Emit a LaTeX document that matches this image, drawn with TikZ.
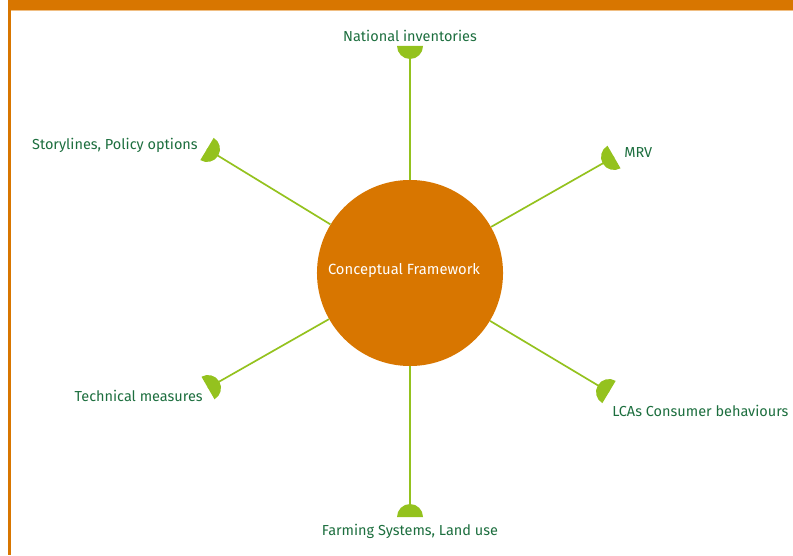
\documentclass[tikz,border=0pt]{standalone}
\usepackage{fontspec}
\setmainfont{Fira Sans}
\definecolor{cforange}{RGB}{216,118,0}
\definecolor{cflight}{RGB}{240,190,130}
\definecolor{cfgreen}{RGB}{148,194,30}
\definecolor{cftext}{RGB}{28,110,62}
\tikzset{
  spoke/.style={cfgreen, line width=1.2pt},
  lbl/.style={text=cftext, font=\fontsize{10.3}{12}\selectfont, inner sep=0pt},
}
% half disc at an end, flat side outwards, dome towards the hub
\def\lampcap(#1)(#2){\fill[cfgreen] (#1) ++(#2+90:13) arc[start angle=#2+90, delta angle=180, radius=13] -- cycle;}

\begin{document}
\begin{tikzpicture}[x=0.025cm, y=0.025cm]
			%%%%% START %%%%%
			\useasboundingbox (0, 0) rectangle (793, 555);
			
			\fill[cforange] (8, 545) rectangle (793, 555);
			\fill[cforange] (8, 0) rectangle (11, 555);
			\draw[cflight, line width=0.5pt] (11, 544.6) -- (793, 544.6);
			
			\coordinate (top) at (410, 509);
			\coordinate (topleft) at (207, 406);
			\coordinate (topright) at (614, 398);
			\coordinate (botleft) at (208, 167);
			\coordinate (botright) at (609, 163);
			\coordinate (bot) at (410, 38);
			
			\node[circle, fill=cforange, minimum size=4.65cm, inner sep=0pt] (hub) at (410, 282) {};
			\node[text=white, font=\fontsize{10.5}{12}\selectfont, inner sep=0pt] (hubtext) at (404, 284) {Conceptual Framework};
			
			\draw[spoke] (hub) -- (top);
			\draw[spoke] (hub) -- (topleft);
			\draw[spoke] (hub) -- (topright);
			\draw[spoke] (hub) -- (botleft);
			\draw[spoke] (hub) -- (botright);
			\draw[spoke] (hub) -- (bot);
			
			\lampcap(top)(90)
			\lampcap(topleft)(149)
			\lampcap(topright)(30)
			\lampcap(botleft)(210)
			\lampcap(botright)(-31)
			\lampcap(bot)(-90)
			
			\node[lbl] (natinv) at (410, 519) {National inventories};
			\node[lbl, anchor=east] (story) at (198, 410) {Storylines, Policy options};
			\node[lbl, anchor=west] (mrv) at (624, 402) {MRV};
			\node[lbl, anchor=east] (techm) at (203, 159) {Technical measures};
			\node[lbl, anchor=west] (lcas) at (612, 144) {LCAs Consumer behaviours};
			\node[lbl] (farm) at (410, 24) {Farming Systems, Land use};
			%%%%% END %%%%%
\end{tikzpicture}
\end{document}
